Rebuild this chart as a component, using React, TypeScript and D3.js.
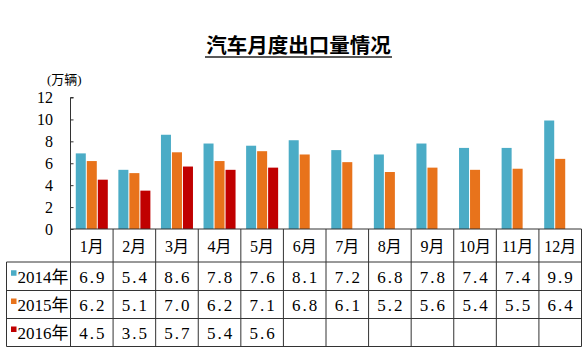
import React, { useRef, useEffect } from 'react'
import * as d3 from 'd3'

const months = ['1月', '2月', '3月', '4月', '5月', '6月', '7月', '8月', '9月', '10月', '11月', '12月']
const seriesNames = ['2014年', '2015年', '2016年']
const exports2014 = [6.9, 5.4, 8.6, 7.8, 7.6, 8.1, 7.2, 6.8, 7.8, 7.4, 7.4, 9.9]
const exports2015 = [6.2, 5.1, 7.0, 6.2, 7.1, 6.8, 6.1, 5.2, 5.6, 5.4, 5.5, 6.4]
const exports2016 = [4.5, 3.5, 5.7, 5.4, 5.6]
const yTicks = [0, 2, 4, 6, 8, 10, 12]
const colors = ['#4bacc6', '#e8731b', '#c00000']

const serifCjk = '"Liberation Serif", "Noto Sans CJK SC", serif'

const App = () => {
    const svgRef = useRef<SVGSVGElement>(null)

    useEffect(() => {
        const svg = d3.select(svgRef.current)
        svg.selectAll('*').remove()

        const allSeries = [exports2014, exports2015, exports2016]
        const left = 70.5
        const right = 581.5
        const base = 229
        const top = 97.5
        // table rows: header + one per series
        const rowEdges = [229, 262, 290.5, 318.5, 346.5]

        const x = d3.scaleBand().domain(months).range([left, right]).padding(0)
        const x1 = d3
            .scaleBand()
            .domain(seriesNames)
            .range([0, x.bandwidth()])
            .paddingInner(0.09)
            .paddingOuter(0.48)
        const y = d3.scaleLinear().domain([0, 12]).range([base, top])

        //title
        svg.append('text')
            .attr('x', 298.5)
            .attr('y', 53)
            .attr('text-anchor', 'middle')
            .style('font-family', '"Noto Sans CJK SC", sans-serif')
            .style('font-weight', 'bold')
            .style('font-size', '20.5px')
            .text('汽车月度出口量情况')
        svg.append('line')
            .attr('x1', 205)
            .attr('x2', 392)
            .attr('y1', 57)
            .attr('y2', 57)
            .attr('stroke', '#222')
            .attr('stroke-width', 1.5)

        //unit label
        svg.append('text')
            .attr('x', 47)
            .attr('y', 84)
            .style('font-family', serifCjk)
            .style('font-size', '13px')
            .text('(万辆)')

        //bars
        allSeries.forEach((vals, si) => {
            svg.append('g')
                .selectAll('rect')
                .data(vals)
                .enter()
                .append('rect')
                .attr('x', (d, i) => x(months[i]) + x1(seriesNames[si]))
                .attr('y', (d) => y(d))
                .attr('width', x1.bandwidth())
                .attr('height', (d) => base - y(d))
                .attr('fill', colors[si])
        })

        //y axis
        const yAxis = svg.append('g').attr('transform', `translate(${left}, 0)`)
        yAxis.call(d3.axisRight(y).tickValues(yTicks).tickSize(3).tickFormat(() => ''))
        yAxis.select('.domain').attr('stroke', '#333').attr('d', `M3,${top}H0V${base}`)
        yAxis.selectAll('line').attr('stroke', '#333')

        svg.append('g')
            .selectAll('text')
            .data(yTicks)
            .enter()
            .append('text')
            .attr('x', 53)
            .attr('y', (d) => y(d))
            .attr('dy', '0.35em')
            .attr('text-anchor', 'end')
            .style('font-family', serifCjk)
            .style('font-size', '16px')
            .text((d) => d)

        //table grid
        const grid = svg.append('g').attr('stroke', '#333').attr('stroke-width', 1)
        rowEdges.forEach((ry, ri) => {
            grid.append('line')
                .attr('x1', ri === 0 ? left : 6.5)
                .attr('x2', right)
                .attr('y1', ry)
                .attr('y2', ry)
        })
        months.forEach((m) => {
            grid.append('line')
                .attr('x1', x(m))
                .attr('x2', x(m))
                .attr('y1', base)
                .attr('y2', rowEdges[4])
        })
        grid.append('line').attr('x1', right).attr('x2', right).attr('y1', base).attr('y2', rowEdges[4])
        grid.append('line').attr('x1', 6.5).attr('x2', 6.5).attr('y1', rowEdges[1]).attr('y2', rowEdges[4])

        //month header
        svg.append('g')
            .selectAll('text')
            .data(months)
            .enter()
            .append('text')
            .attr('x', (d) => x(d) + x.bandwidth() / 2)
            .attr('y', (rowEdges[0] + rowEdges[1]) / 2)
            .attr('dy', '0.38em')
            .attr('text-anchor', 'middle')
            .style('font-family', serifCjk)
            .style('font-size', '16px')
            .text((d) => d)

        //row labels + values
        const fmt = d3.format('.1f')
        allSeries.forEach((vals, si) => {
            const cy = (rowEdges[si + 1] + rowEdges[si + 2]) / 2
            svg.append('rect')
                .attr('x', 11)
                .attr('y', cy - 6)
                .attr('width', 5.5)
                .attr('height', 5.5)
                .attr('fill', colors[si])
            svg.append('text')
                .attr('x', 17.5)
                .attr('y', cy)
                .attr('dy', '0.38em')
                .style('font-family', serifCjk)
                .style('font-size', '17px')
                .text(seriesNames[si])
            svg.append('g')
                .selectAll('text')
                .data(vals)
                .enter()
                .append('text')
                .attr('x', (d, i) => x(months[i]) + x.bandwidth() / 2 + 1)
                .attr('y', cy)
                .attr('dy', '0.38em')
                .attr('text-anchor', 'middle')
                .style('font-family', serifCjk)
                .style('font-size', '17px')
                .style('letter-spacing', '2px')
                .text((d) => fmt(d))
        })
    }, [])

    return (
        <svg
            ref={svgRef}
            width={587}
            height={354}
            style={{ position: 'absolute', left: 0, top: 0, background: '#fff' }}
        />
    )
}

export default App
